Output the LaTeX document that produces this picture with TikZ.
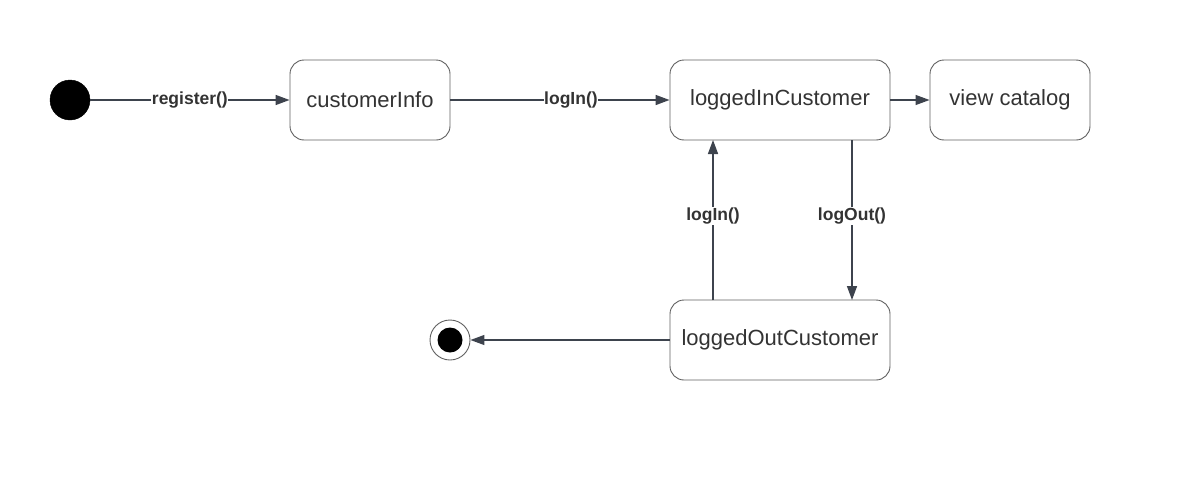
\documentclass[tikz,border=0pt]{standalone}
\usepackage{fontspec}
\setmainfont{Liberation Sans}
\usetikzlibrary{arrows.meta}
\definecolor{lineC}{HTML}{3D434D}
\definecolor{boxC}{HTML}{5F5F5F}
\definecolor{txtC}{HTML}{333333}
\tikzset{
  state/.style={draw=boxC, line width=0.9pt, rounded corners=14pt, minimum height=80pt, text=txtC, font=\fontsize{22}{26}\selectfont, inner sep=0pt},
  conn/.style={draw=lineC, line width=1.6pt, -{Triangle[length=14pt,width=10pt]}},
  lbl/.style={fill=white, text=txtC, font=\bfseries\fontsize{17.5}{20}\selectfont, inner sep=0.5pt}
}
\begin{document}
\begin{tikzpicture}[x=1pt,y=-1pt]
\useasboundingbox (0,0) rectangle (1180,482);
\node[circle, fill=black, draw=black, minimum size=40pt, inner sep=0pt] (init) at (70,100) {};
\node[state, minimum width=160pt] (ci) at (370,100) {\raisebox{1.5pt}{customerInfo}};
\node[state, minimum width=220pt] (lic) at (780,100) {\raisebox{1.5pt}{loggedInCustomer}};
\node[state, minimum width=160pt] (vc) at (1010,100) {\raisebox{1.5pt}{view catalog}};
\node[state, minimum width=220pt] (loc) at (780,340) {\raisebox{1.5pt}{loggedOutCustomer}};
\node[circle, draw=boxC, line width=0.9pt, minimum size=40pt, inner sep=0pt] (fin) at (450,340) {};
\node[circle, fill=black, minimum size=25pt, inner sep=0pt] at (fin) {};

\draw[conn] (init.east) -- node[lbl, pos=0.5] {register()} (ci.west);
\draw[conn] (ci.east) -- node[lbl, pos=0.55] {logIn()} (lic.west);
\draw[conn, line width=1.2pt] (lic.east) -- (vc.west);
\coordinate (upB) at (713,300);
\coordinate (upT) at (713,140);
\draw[conn] (upB) -- node[lbl, pos=0.525] {logIn()} (upT);
\coordinate (dnT) at (852,140);
\coordinate (dnB) at (852,300);
\draw[conn] (dnT) -- node[lbl, pos=0.475] {logOut()} (dnB);
\draw[conn, line width=1.2pt] (loc.west) -- (fin.east);
\end{tikzpicture}
\end{document}
